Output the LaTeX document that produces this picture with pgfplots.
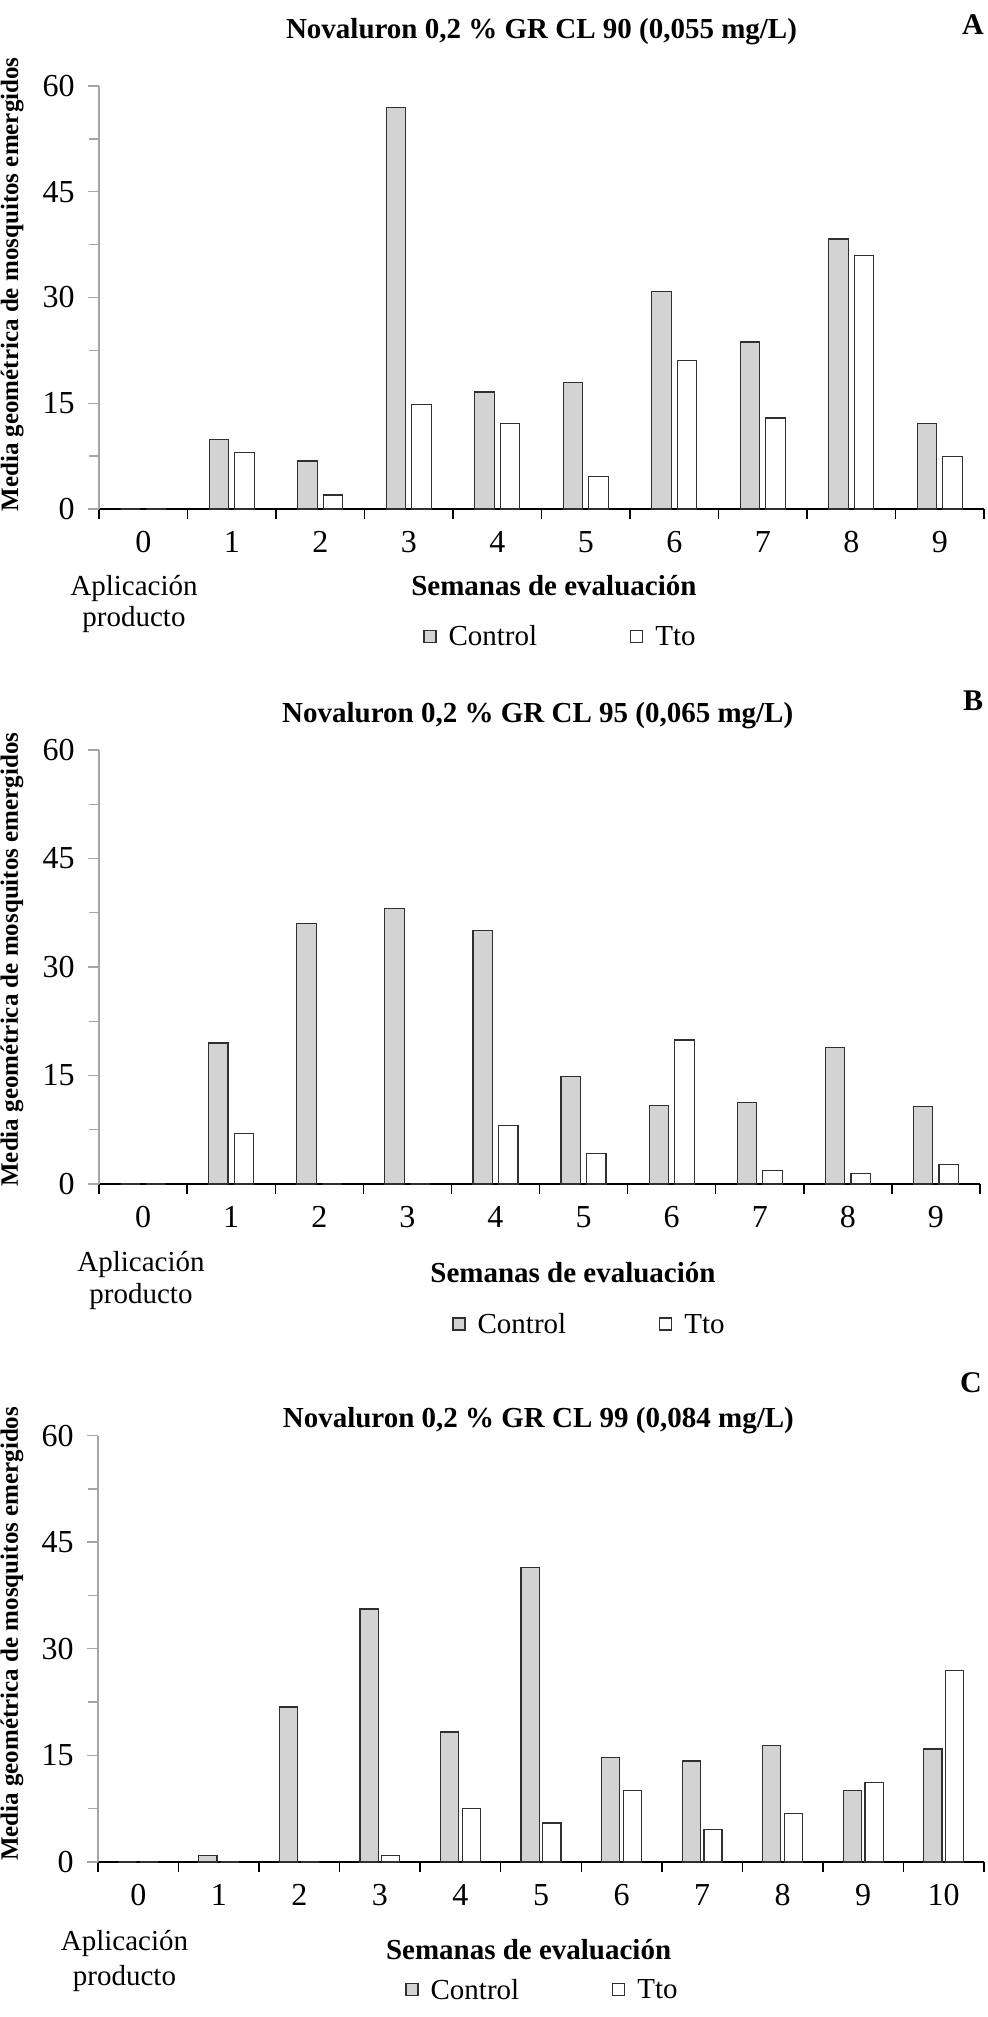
\documentclass[border=0pt]{standalone}
\usepackage{fontspec}
\setmainfont{Liberation Serif}
\usepackage{pgfplots}
\usepackage{pgfplotstable}
\pgfplotsset{compat=1.18}

\definecolor{ctrl}{HTML}{D3D3D3}
\definecolor{edge}{HTML}{303030}
\definecolor{yax}{HTML}{A6A6A6}

\pgfplotstableread{
week ctrl tto
0 0 0
1 9.9 8.0
2 6.8 2.0
3 56.9 14.8
4 16.6 12.1
5 18.0 4.6
6 30.8 21.1
7 23.7 12.9
8 38.3 36.0
9 12.1 7.5
}\dataA
\pgfplotstableread{
week ctrl tto
0 0 0
1 19.5 7.0
2 36.0 0
3 38.1 0
4 35.1 8.1
5 14.9 4.2
6 10.8 19.9
7 11.3 1.9
8 18.9 1.4
9 10.7 2.7
}\dataB
\pgfplotstableread{
week ctrl tto
0 0 0
1 0.9 0
2 21.8 0
3 35.6 0.9
4 18.3 7.5
5 41.4 5.5
6 14.7 10.1
7 14.2 4.6
8 16.4 6.8
9 10.1 11.2
10 15.9 26.9
}\dataC

\pgfplotsset{
  panel/.style={
    scale only axis,
    axis x line*=bottom, axis y line*=left,
    x axis line style={black, line width=0.7pt},
    y axis line style={yax, line width=0.7pt},
    ymin=0, ymax=60,
    ytick={0,15,30,45,60},
    minor ytick={7.5,22.5,37.5,52.5},
    tick align=outside,
    major tick length=5.5pt, minor tick length=5pt,
    major y tick style={yax, line width=0.7pt},
    minor y tick style={yax, line width=0.7pt},
    major x tick style={draw=none},
    minor x tick style={black, line width=0.7pt},
    tick label style={font=\fontsize{16}{19}\selectfont},
    /pgf/number format/assume math mode=true,
    yticklabel style={anchor=east, inner sep=0pt, xshift=-6.5pt},
    xticklabel style={anchor=base, inner sep=0pt, yshift=-16pt},
    title style={font=\bfseries\fontsize{14.5}{17}\selectfont, anchor=center},
    xlabel style={font=\bfseries\fontsize{14.5}{17}\selectfont, anchor=center},
    ylabel style={font=\bfseries\fontsize{12.5}{15}\selectfont, anchor=center},
    xlabel={Semanas de evaluación},
    ylabel={Media geométrica de mosquitos emergidos},
    legend columns=2,
    legend image code/.code={\draw[#1] (0pt,-2.5pt) rectangle (6pt,3.5pt);},
    legend style={draw=none, fill=none, inner sep=0pt, anchor=west,
      font=\fontsize{14.5}{17}\selectfont, nodes={inner sep=0pt},
      /tikz/every odd column/.append style={column sep=6pt},
      /tikz/every even column/.append style={column sep=46.5pt}},
  },
  ctrlbar/.style={ybar, fill=ctrl, draw=edge, line width=0.6pt},
  ttobar/.style={ybar, fill=white, draw=edge, line width=0.6pt},
}

\begin{document}
\begin{tikzpicture}
\useasboundingbox (0,0) rectangle (493.5pt,-1008.5pt);

% Panel A
\begin{axis}[panel,
  at={(49.5pt,-254.5pt)}, anchor=south west,
  width=442.5pt, height=211.5pt,
  xmin=-0.5, xmax=9.5,
  xtick={0,...,9},
  minor xtick={-0.5,0.5,...,9.5},
  title={Novaluron 0,2 \% GR CL 90 (0,055 mg/L)},
  title style={at={(axis description cs:0.5,1.099)}},
  xlabel style={at={(axis description cs:0.514,-0.182)}},
  ylabel style={at={(axis description cs:-0.098,0.531)}},
  legend style={at={(axis description cs:0.366,-0.303)}},
]
\addplot[ctrlbar, bar width=0.22, bar shift=-0.145] table[x=week,y=ctrl] {\dataA};
\addplot[ttobar, bar width=0.22, bar shift=0.145] table[x=week,y=tto] {\dataA};
\legend{Control, Tto}
\end{axis}

% Panel B
\begin{axis}[panel,
  at={(49.5pt,-592pt)}, anchor=south west,
  width=440.5pt, height=217pt,
  xmin=-0.5, xmax=9.5,
  xtick={0,...,9},
  minor xtick={-0.5,0.5,...,9.5},
  title={Novaluron 0,2 \% GR CL 95 (0,065 mg/L)},
  title style={at={(axis description cs:0.498,1.051)}},
  xlabel style={at={(axis description cs:0.538,-0.203)}},
  ylabel style={at={(axis description cs:-0.0988,0.517)}},
  legend style={at={(axis description cs:0.4007,-0.325)}},
]
\addplot[ctrlbar, bar width=0.22, bar shift=-0.145] table[x=week,y=ctrl] {\dataB};
\addplot[ttobar, bar width=0.22, bar shift=0.145] table[x=week,y=tto] {\dataB};
\legend{Control, Tto}
\end{axis}

% Panel C
\begin{axis}[panel,
  at={(49pt,-931pt)}, anchor=south west,
  width=443pt, height=213.25pt,
  xmin=-0.5, xmax=10.5,
  xtick={0,...,10},
  minor xtick={-0.5,0.5,...,10.5},
  title={Novaluron 0,2 \% GR CL 99 (0,084 mg/L)},
  title style={at={(axis description cs:0.497,1.006)}},
  xlabel style={at={(axis description cs:0.486,-0.206)}},
  ylabel style={at={(axis description cs:-0.097,0.535)}},
  legend style={at={(axis description cs:0.3465,-0.302)}},
]
\addplot[ctrlbar, bar width=0.225, bar shift=-0.135] table[x=week,y=ctrl] {\dataC};
\addplot[ttobar, bar width=0.225, bar shift=0.135] table[x=week,y=tto] {\dataC};
\legend{Control, Tto}
\end{axis}

\node[font=\bfseries\fontsize{15}{18}\selectfont] at (486.5pt,-12.5pt) {A};
\node[font=\bfseries\fontsize{15}{18}\selectfont] at (486.5pt,-350.5pt) {B};
\node[font=\bfseries\fontsize{15}{18}\selectfont] at (485.5pt,-691.5pt) {C};

\node[align=center, font=\fontsize{14.5}{16}\selectfont, inner sep=0pt] at (67pt,-302pt) {Aplicación\\producto};
\node[align=center, font=\fontsize{14.5}{16}\selectfont, inner sep=0pt] at (70.5pt,-640pt) {Aplicación\\producto};
\node[align=center, font=\fontsize{14.5}{17.5}\selectfont, inner sep=0pt] at (62.25pt,-980.25pt) {Aplicación\\producto};
\end{tikzpicture}
\end{document}
